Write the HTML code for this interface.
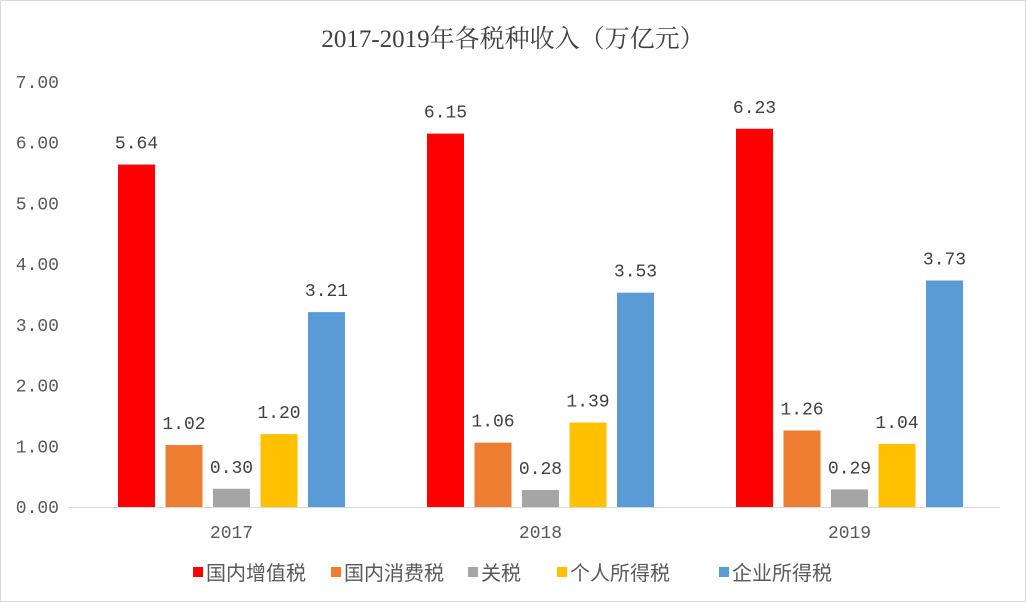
<!DOCTYPE html>
<html><head><meta charset="utf-8">
<style>
body{margin:0;background:#fff;}
#wrap{position:relative;width:1024px;height:600px;border:1px solid #d9d9d9;background:#fff;overflow:hidden;}
svg text{font-family:"Liberation Mono","Noto Serif CJK SC",monospace;}
</style></head>
<body>
<div id="wrap">
<svg id="chart" width="1024" height="600">
<text x="512" y="46" text-anchor="middle" font-size="25" fill="#404040" style='font-family:"Liberation Serif","Noto Serif CJK SC",serif'>2017-2019年各税种收入（万亿元）</text>
</svg>
</div>
<script>
const categories=["2017","2018","2019"];
const seriesNames=["国内增值税","国内消费税","关税","个人所得税","企业所得税"];
const vat=[5.64,6.15,6.23];
const consumption=[1.02,1.06,1.26];
const customs=[0.30,0.28,0.29];
const personal=[1.20,1.39,1.04];
const corporate=[3.21,3.53,3.73];
const yTicks=["0.00","1.00","2.00","3.00","4.00","5.00","6.00","7.00"];
const colors=["#ff0000","#ed7d31","#a5a5a5","#ffc000","#5b9bd5"];
const series=[vat,consumption,customs,personal,corporate];
const svg=document.getElementById('chart');
const NS="http://www.w3.org/2000/svg";
const y0=506,yTop=81,yMax=7;
const yScale=v=>y0-(v/yMax)*(y0-yTop);
const x0=67,x1=999;
const cStart=76,catW=309;
const xCenter=i=>cStart+catW*(i+0.5);
const barW=37,step=47.5;
function mk(tag,attrs){const e=document.createElementNS(NS,tag);for(const k in attrs)e.setAttribute(k,attrs[k]);svg.appendChild(e);return e;}
yTicks.forEach(t=>{
  const e=mk('text',{x:58,y:yScale(parseFloat(t))+6,'text-anchor':'end','font-size':18,fill:'#595959'});
  e.textContent=t;
  
  
});
const ax=mk('line',{x1:x0,x2:x1,y1:y0+0.5,y2:y0+0.5,stroke:'#d9d9d9','stroke-width':1});


categories.forEach((c,i)=>{
  const e=mk('text',{x:xCenter(i),y:537,'text-anchor':'middle','font-size':18,fill:'#595959'});
  e.textContent=c;
  
  
  series.forEach((s,j)=>{
    const cx=xCenter(i)+(j-2)*step;
    const top=yScale(s[i]);
    const r=mk('rect',{x:cx-barW/2,y:top,width:barW,height:y0-top,fill:colors[j]});
    
    
    const l=mk('text',{x:cx,y:top-16,'text-anchor':'middle','font-size':18,fill:'#404040'});
    l.textContent=s[i].toFixed(2);
    
    
  });
});
const legX=[192,330,467,556,718];
seriesNames.forEach((n,j)=>{
  const r=mk('rect',{x:legX[j],y:566,width:10,height:10,fill:colors[j]});
  
  
  const t=mk('text',{x:legX[j]+13,y:579,'font-size':20,fill:'#595959'});
  t.setAttribute('style','font-family:"Noto Sans CJK SC",sans-serif');
  t.textContent=n;
  
  
});
</script>
</body></html>
